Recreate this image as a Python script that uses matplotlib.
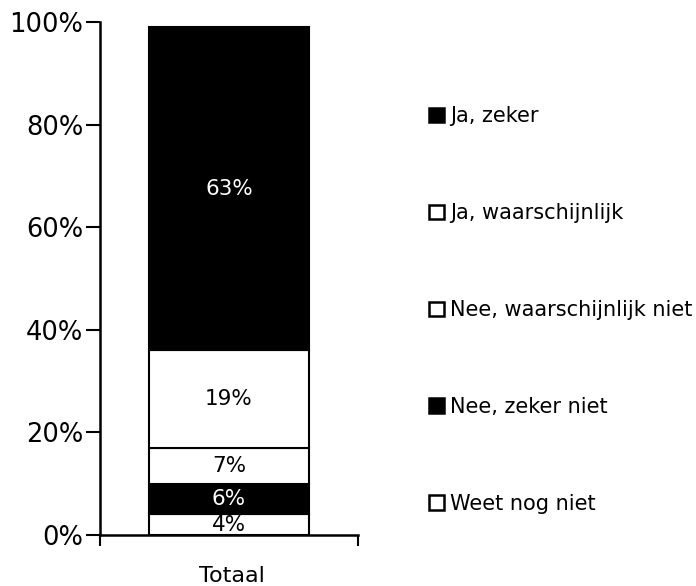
import matplotlib.pyplot as plt
from matplotlib.patches import Patch

# categories from bottom to top of the stacked bar
categories = ['Weet nog niet', 'Nee, zeker niet', 'Nee, waarschijnlijk niet',
              'Ja, waarschijnlijk', 'Ja, zeker']
values = [4, 6, 7, 19, 63]
colors = ['white', 'black', 'white', 'white', 'black']
text_colors = ['black', 'white', 'black', 'black', 'white']
group = ['Totaal']

plt.rcParams['font.family'] = ['DejaVu Sans']

fig = plt.figure(figsize=(6.96, 5.86), dpi=100)
ax = fig.add_axes([100 / 696, 1 - 535 / 586, 258 / 696, 513 / 586])

bottom = 0
for cat, val, col, tc in zip(categories, values, colors, text_colors):
    ax.bar(0, val, width=0.624, bottom=bottom, color=col, edgecolor='black', linewidth=1.5)
    ax.text(0, bottom + val / 2, f'{val}%', ha='center', va='center', color=tc, fontsize=15.5)
    bottom += val

ax.set_xlim(-0.5, 0.5)
ax.set_ylim(0, 100)
ax.set_yticks(range(0, 101, 20))
ax.set_yticklabels([f'{t}%' for t in range(0, 101, 20)], fontsize=18.5)
ax.tick_params(axis='y', length=10, width=1.5, pad=2)

# category label and boundary ticks on x axis
ax.set_xticks([-0.5, 0.5])
ax.set_xticklabels(['', ''])
ax.tick_params(axis='x', length=8, width=1.5)
ax.text(0.01, -0.06, group[0], transform=ax.get_xaxis_transform(), ha='center', va='top', fontsize=16)

for s in ['top', 'right']:
    ax.spines[s].set_visible(False)
for s in ['left', 'bottom']:
    ax.spines[s].set_linewidth(1.8)

handles = [Patch(facecolor=c, edgecolor='black', linewidth=1.8) for c in colors]
ax.legend(handles[::-1], categories[::-1], loc='upper left',
          bbox_to_anchor=(419 / 696, 1 - 96 / 586), bbox_transform=fig.transFigure,
          frameon=False, fontsize=15, labelspacing=3.69, handlelength=0.7,
          handleheight=0.7, handletextpad=0.3, borderpad=0)

fig.savefig('out.png', dpi=100)
